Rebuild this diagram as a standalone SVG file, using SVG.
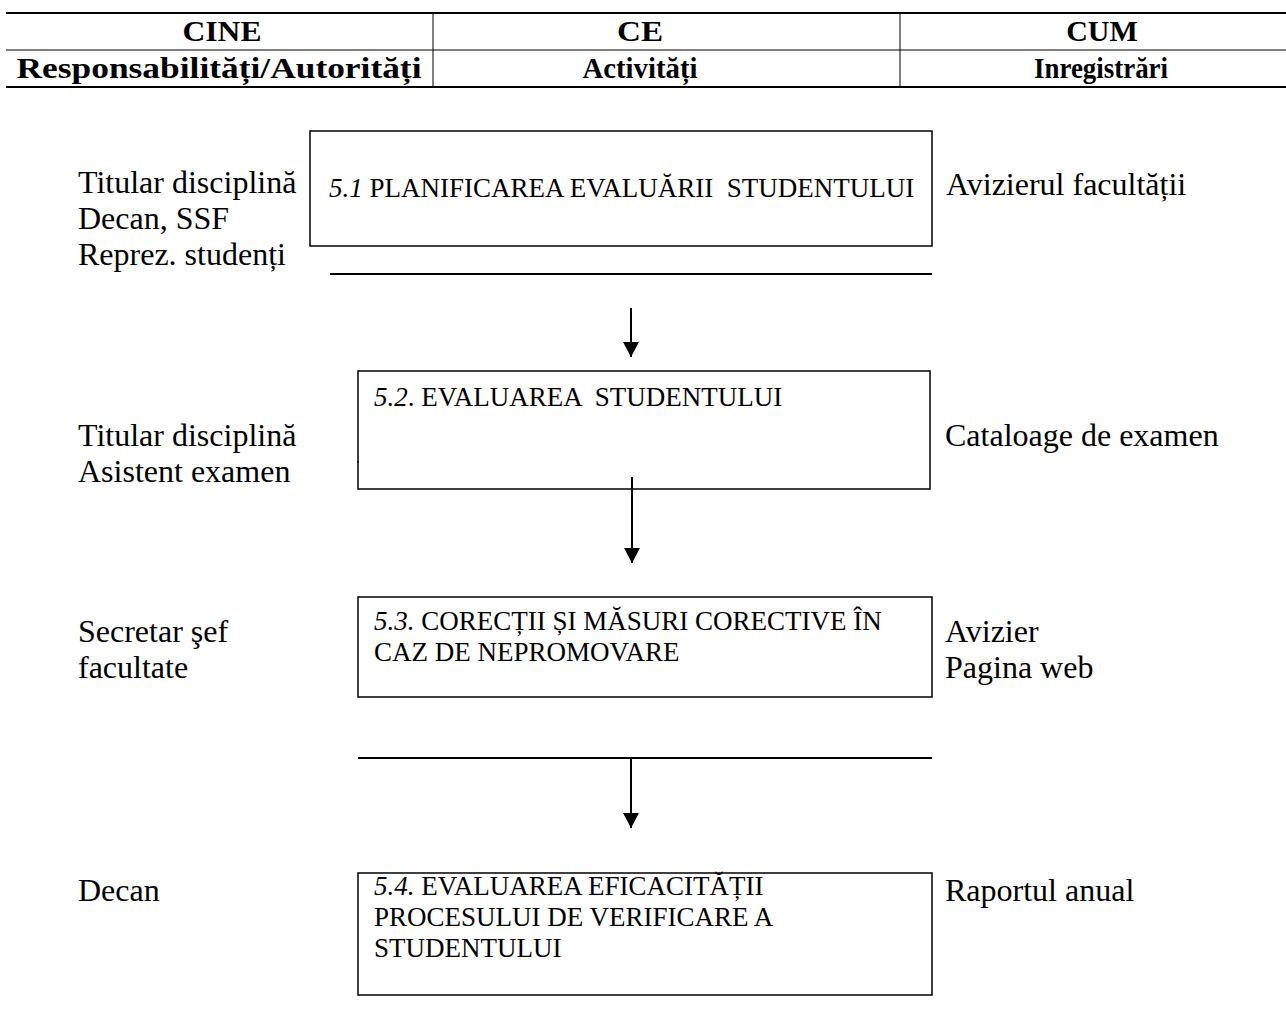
<svg xmlns="http://www.w3.org/2000/svg" width="1286" height="1009" viewBox="0 0 1286 1009">
<style>
.t{font-family:"Liberation Serif","Times New Roman",serif;font-size:32px;fill:#000}
.b{font-family:"Liberation Serif","Times New Roman",serif;font-size:30px;font-weight:bold;fill:#000}
.bx{font-family:"Liberation Serif","Times New Roman",serif;font-size:27px;fill:#000}
.box{fill:none;stroke:#000;stroke-width:1.5}
.ln{stroke:#000;stroke-width:2;fill:none}
.tb{stroke:#000;stroke-width:2}
.tn{stroke:#000;stroke-width:1}
</style>
<defs>
<marker id="ah" markerWidth="15" markerHeight="16" refX="15" refY="8" orient="auto" markerUnits="userSpaceOnUse" viewBox="0 0 15 16">
<path d="M0,0 L15,8 L0,16 Z" fill="#000"/>
</marker>
</defs>
<g id="header">
<line class="tb" x1="6" y1="13" x2="1286" y2="13"/>
<line class="tn" x1="6" y1="50" x2="1286" y2="50"/>
<line class="tb" x1="6" y1="87" x2="1286" y2="87"/>
<line class="tn" x1="433" y1="13" x2="433" y2="87"/>
<line class="tn" x1="900" y1="13" x2="900" y2="87"/>
<text class="b" x="222" y="41" text-anchor="middle" textLength="79" lengthAdjust="spacingAndGlyphs">CINE</text>
<text class="b" x="640" y="41" text-anchor="middle" textLength="46" lengthAdjust="spacingAndGlyphs">CE</text>
<text class="b" x="1102" y="41" text-anchor="middle">CUM</text>
<text class="b" x="219" y="78" text-anchor="middle" textLength="405" lengthAdjust="spacingAndGlyphs">Responsabilități/Autorități</text>
<text class="b" x="640" y="78" text-anchor="middle" textLength="115" lengthAdjust="spacingAndGlyphs">Activități</text>
<text class="b" x="1101" y="78" text-anchor="middle" textLength="134" lengthAdjust="spacingAndGlyphs">Inregistrări</text>
</g>
<g id="node1">
<text class="t" x="78" y="193">Titular disciplină</text>
<text class="t" x="78" y="229">Decan, SSF</text>
<text class="t" x="78" y="265">Reprez. studenți</text>
<rect class="box" x="310" y="131" width="622" height="115"/>
<text class="bx" x="329" y="197" xml:space="preserve"><tspan font-style="italic">5.1</tspan> PLANIFICAREA EVALUĂRII  STUDENTULUI</text>
<text class="t" x="946" y="195">Avizierul facultății</text>
</g>
<g id="node2">
<text class="t" x="78" y="446">Titular disciplină</text>
<text class="t" x="78" y="482">Asistent examen</text>
<rect class="box" x="358" y="371" width="572" height="118"/>
<text class="bx" x="374" y="406" xml:space="preserve"><tspan font-style="italic">5.2</tspan>. EVALUAREA  STUDENTULUI</text>
<text class="t" x="945" y="446">Cataloage de examen</text>
</g>
<g id="node3">
<text class="t" x="78" y="642">Secretar şef</text>
<text class="t" x="78" y="678">facultate</text>
<rect class="box" x="358" y="597" width="574" height="100"/>
<text class="bx" x="374" y="630"><tspan font-style="italic">5.3.</tspan> CORECȚII ȘI MĂSURI CORECTIVE ÎN</text>
<text class="bx" x="374" y="661">CAZ DE NEPROMOVARE</text>
<text class="t" x="945" y="642">Avizier</text>
<text class="t" x="945" y="678">Pagina web</text>
</g>
<g id="node4">
<text class="t" x="78" y="901">Decan</text>
<rect class="box" x="358" y="873" width="574" height="122"/>
<text class="bx" x="374" y="895"><tspan font-style="italic">5.4.</tspan> EVALUAREA EFICACITĂȚII</text>
<text class="bx" x="374" y="926">PROCESULUI DE VERIFICARE A</text>
<text class="bx" x="374" y="957">STUDENTULUI</text>
<text class="t" x="945" y="901">Raportul anual</text>
</g>
<g id="connectors">
<line class="ln" x1="330" y1="274" x2="932" y2="274"/>
<line class="ln" x1="358" y1="758" x2="932" y2="758"/>
<line class="tn" x1="357" y1="462" x2="359" y2="462"/>
<path class="ln" d="M631,308 V357" marker-end="url(#ah)"/>
<path class="ln" d="M632,477 V563" marker-end="url(#ah)"/>
<path class="ln" d="M631,758 V828" marker-end="url(#ah)"/>
</g>
</svg>
